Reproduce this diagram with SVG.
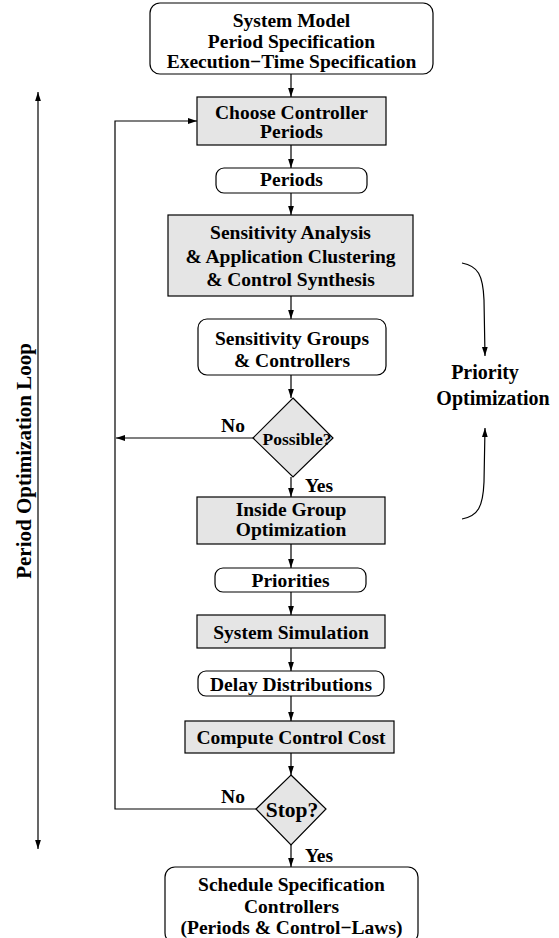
<svg xmlns="http://www.w3.org/2000/svg" width="559" height="938" viewBox="0 0 559 938">
<defs>
<style>
.box{fill:#ffffff;stroke:#000;stroke-width:1.2}
.proc{fill:#e5e5e5;stroke:#000;stroke-width:1.2}
.t{font-family:"Liberation Serif","Times New Roman",serif;font-weight:bold;font-size:19.5px;fill:#000;text-anchor:middle}
.c{fill:none;stroke:#000;stroke-width:1.2}
</style>
<marker id="ah" viewBox="0 0 10 10" refX="10" refY="5" markerWidth="9" markerHeight="9" markerUnits="userSpaceOnUse" orient="auto">
<path d="M0,1.8 L10,5 L0,8.2 Z" fill="#000"/>
</marker>
</defs>
<rect width="559" height="938" fill="#fff"/>
<g id="connectors">
<line class="c" x1="291" y1="74" x2="291" y2="97" marker-end="url(#ah)"/>
<line class="c" x1="291" y1="145" x2="291" y2="168" marker-end="url(#ah)"/>
<line class="c" x1="291" y1="193" x2="291" y2="215" marker-end="url(#ah)"/>
<line class="c" x1="291" y1="296" x2="291" y2="319" marker-end="url(#ah)"/>
<line class="c" x1="291" y1="375" x2="291" y2="398" marker-end="url(#ah)"/>
<line class="c" x1="291" y1="477" x2="291" y2="497" marker-end="url(#ah)"/>
<line class="c" x1="291" y1="544" x2="291" y2="568" marker-end="url(#ah)"/>
<line class="c" x1="291" y1="592" x2="291" y2="615" marker-end="url(#ah)"/>
<line class="c" x1="291" y1="648" x2="291" y2="671" marker-end="url(#ah)"/>
<line class="c" x1="291" y1="696" x2="291" y2="721" marker-end="url(#ah)"/>
<line class="c" x1="291" y1="753" x2="291" y2="775" marker-end="url(#ah)"/>
<line class="c" x1="291" y1="845" x2="291" y2="867" marker-end="url(#ah)"/>
<line class="c" x1="253" y1="438" x2="116" y2="438" marker-end="url(#ah)"/>
<polyline class="c" points="256,809 115,809 115,121 197,121" marker-end="url(#ah)"/>
<line class="c" x1="38" y1="140" x2="38" y2="92" marker-end="url(#ah)"/>
<line class="c" x1="38" y1="140" x2="38" y2="849" marker-end="url(#ah)"/>
<path class="c" d="M462,263 C478,266 483,275 484,300 L485,356" marker-end="url(#ah)"/>
<path class="c" d="M462,519 C478,516 483,507 484,482 L485,428" marker-end="url(#ah)"/>
<text class="t" x="233" y="432">No</text>
<text class="t" x="319" y="492">Yes</text>
<text class="t" x="233" y="803">No</text>
<text class="t" x="319" y="862">Yes</text>
</g>
<g id="input">
<rect class="box" x="150" y="3" width="283" height="71" rx="10"/>
<text class="t" x="291.5" y="27">System Model</text>
<text class="t" x="291.5" y="47.5">Period Specification</text>
<text class="t" x="291.5" y="68">Execution−Time Specification</text>
</g>
<g id="choose">
<rect class="proc" x="197" y="97" width="189" height="48"/>
<text class="t" x="291.5" y="119">Choose Controller</text>
<text class="t" x="291.5" y="138">Periods</text>
</g>
<g id="periods">
<rect class="box" x="216" y="168" width="151" height="25" rx="8"/>
<text class="t" x="291.5" y="186">Periods</text>
</g>
<g id="sensitivity">
<rect class="proc" x="168" y="215" width="245" height="81"/>
<text class="t" x="290.5" y="239">Sensitivity Analysis</text>
<text class="t" x="290.5" y="262.5">&amp; Application Clustering</text>
<text class="t" x="290.5" y="285.5">&amp; Control Synthesis</text>
</g>
<g id="groups">
<rect class="box" x="198" y="319" width="188" height="56" rx="9"/>
<text class="t" x="292" y="345">Sensitivity Groups</text>
<text class="t" x="292" y="367">&amp; Controllers</text>
</g>
<g id="possible">
<polygon class="proc" points="293,398 333,438 293,477 253,438"/>
<text class="t" x="297" y="445" style="font-size:17.5px">Possible?</text>
</g>
<g id="inside">
<rect class="proc" x="197" y="497" width="188" height="47"/>
<text class="t" x="291" y="516">Inside Group</text>
<text class="t" x="291" y="536">Optimization</text>
</g>
<g id="priorities">
<rect class="box" x="215" y="568" width="151" height="24" rx="8"/>
<text class="t" x="290.5" y="586.5">Priorities</text>
</g>
<g id="simulation">
<rect class="proc" x="197" y="615" width="188" height="33"/>
<text class="t" x="291" y="638.5">System Simulation</text>
</g>
<g id="delay">
<rect class="box" x="198" y="671" width="186" height="25" rx="8"/>
<text class="t" x="291" y="690.5">Delay Distributions</text>
</g>
<g id="cost">
<rect class="proc" x="185" y="721" width="209" height="32"/>
<text class="t" x="291" y="744">Compute Control Cost</text>
</g>
<g id="stop">
<polygon class="proc" points="291,775 326,809 291,845 256,809"/>
<text class="t" x="292" y="817" style="font-size:21.5px">Stop?</text>
</g>
<g id="output">
<rect class="box" x="165" y="867" width="253" height="76" rx="10"/>
<text class="t" x="291.5" y="891">Schedule Specification</text>
<text class="t" x="291.5" y="913">Controllers</text>
<text class="t" x="291.5" y="934">(Periods &amp; Control−Laws)</text>
</g>
<g id="labels">
<text class="t" x="485" y="379" style="font-size:20px">Priority</text>
<text class="t" x="493" y="405" style="font-size:20px">Optimization</text>
<text class="t" transform="translate(31,461) rotate(-90)" style="font-size:21px">Period Optimization Loop</text>
</g>
</svg>
